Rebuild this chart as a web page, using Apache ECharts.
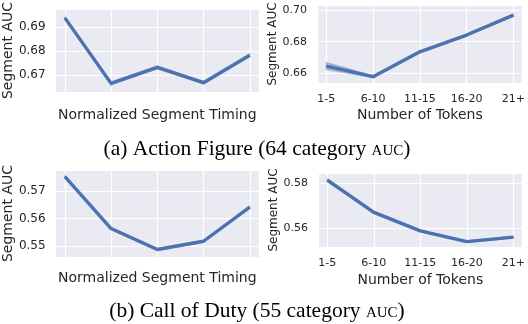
<!DOCTYPE html>
<html>
<head>
<meta charset="utf-8">
<script src="https://cdn.jsdelivr.net/npm/echarts@6/dist/echarts.min.js"></script>
<style>
html, body { margin: 0; padding: 0; background: #fff; }
#main { width: 528px; height: 324px; }
</style>
</head>
<body>
<div id="main"></div>
<script>
// x positions (0..4) and labels
var positions = [0, 1, 2, 3, 4];
var tokenBins = ['1-5', '6-10', '11-15', '16-20', '21+'];

// (a) Action Figure - timing
var afTiming = [0.6939, 0.6665, 0.6732, 0.6668, 0.6783];
var afTimingLow = [0.6936, 0.6659, 0.6726, 0.6663, 0.6778];
var afTimingHigh = [0.6942, 0.6671, 0.6738, 0.6673, 0.6788];
// (a) Action Figure - tokens
var afTokens = [0.6646, 0.6579, 0.6736, 0.6842, 0.6968];
var afTokensLow = [0.6624, 0.6573, 0.6731, 0.6837, 0.6962];
var afTokensHigh = [0.6668, 0.6585, 0.6741, 0.6847, 0.6974];
// (b) Call of Duty - timing
var codTiming = [0.5752, 0.5564, 0.5488, 0.5518, 0.5642];
var codTimingLow = [0.5750, 0.5561, 0.5485, 0.5515, 0.5640];
var codTimingHigh = [0.5754, 0.5567, 0.5491, 0.5521, 0.5644];
// (b) Call of Duty - tokens
var codTokens = [0.5815, 0.5671, 0.5588, 0.5540, 0.5560];
var codTokensLow = [0.5809, 0.5667, 0.5585, 0.5537, 0.5557];
var codTokensHigh = [0.5821, 0.5675, 0.5591, 0.5543, 0.5563];

var chart = echarts.init(document.getElementById('main'));

var txt = '#262626';
var blue = '#4C72B0';

function pairs(vals) {
    return positions.map(function (x, i) { return [x, vals[i]]; });
}
// one quad per segment of the confidence band
function bandSegs(lo, hi) {
    var out = [];
    for (var i = 0; i < positions.length - 1; i++) {
        out.push([positions[i], lo[i], hi[i], positions[i + 1], lo[i + 1], hi[i + 1]]);
    }
    return out;
}
function renderBand(params, api) {
    var a = api.coord([api.value(0), api.value(1)]);
    var b = api.coord([api.value(3), api.value(4)]);
    var c = api.coord([api.value(3), api.value(5)]);
    var d = api.coord([api.value(0), api.value(2)]);
    return {
        type: 'polygon',
        shape: { points: [a, b, c, d] },
        style: { fill: 'rgba(76,114,176,0.35)', stroke: 'rgba(76,114,176,0.3)', lineWidth: 1.5 }
    };
}

function xAxisFor(idx, name, labels, gap, fs) {
    return {
        type: 'value', gridIndex: idx, min: -0.2, max: 4.2, splitNumber: 4,
        name: name, nameLocation: 'middle', nameGap: gap,
        nameTextStyle: { color: txt, fontSize: 14, fontFamily: 'DejaVu Sans' },
        axisLine: { show: false }, axisTick: { show: false },
        axisLabel: {
            show: !!labels, margin: 11, color: txt, fontSize: fs, fontFamily: 'DejaVu Sans',
            formatter: function (v) {
                var i = Math.round(v);
                return (labels && Math.abs(v - i) < 1e-6) ? labels[i] : '';
            }
        },
        splitLine: { show: true, lineStyle: { color: '#fff', width: 1.2 } }
    };
}

function yAxisFor(idx, min, max, split, step, gap, fs, nfs) {
    return {
        type: 'value', gridIndex: idx, min: min, max: max, splitNumber: split,
        name: 'Segment AUC', nameLocation: 'middle', nameGap: gap, nameRotate: 90,
        nameTextStyle: { color: txt, fontSize: nfs, fontFamily: 'DejaVu Sans' },
        axisLine: { show: false }, axisTick: { show: false },
        axisLabel: {
            margin: 10, color: txt, fontSize: fs, fontFamily: 'DejaVu Sans',
            formatter: function (v) {
                var k = v / step;
                return Math.abs(k - Math.round(k)) < 1e-6 ? v.toFixed(2) : '';
            }
        },
        splitLine: { show: true, lineStyle: { color: '#fff', width: 1.2 } }
    };
}

function seriesFor(idx, vals, lo, hi) {
    return [
        { type: 'custom', xAxisIndex: idx, yAxisIndex: idx, data: bandSegs(lo, hi),
          renderItem: renderBand, encode: { x: [0, 3], y: [1, 2, 4, 5] }, silent: true, z: 3 },
        { type: 'line', xAxisIndex: idx, yAxisIndex: idx, data: pairs(vals), showSymbol: false,
          lineStyle: { color: blue, width: 3.4 }, z: 5 }
    ];
}

var capStyle = {
    fontFamily: 'Liberation Serif', fontSize: 21, fontWeight: 'normal', color: '#000',
    rich: {
        n: { fontFamily: 'Liberation Serif', fontSize: 21.5, color: '#000', verticalAlign: 'bottom' },
        sc: { fontFamily: 'Liberation Serif', fontSize: 15, color: '#000', verticalAlign: 'bottom', padding: [0, 0, 1, 0] }
    }
};

var option = {
    animation: false,
    grid: [
        { left: 53, top: 5, width: 206, height: 87, show: true, backgroundColor: '#EAEAF2', borderWidth: 0 },
        { left: 317, top: 5, width: 207, height: 78, show: true, backgroundColor: '#EAEAF2', borderWidth: 0 },
        { left: 53, top: 170, width: 206, height: 87, show: true, backgroundColor: '#EAEAF2', borderWidth: 0 },
        { left: 318, top: 173, width: 206, height: 74, show: true, backgroundColor: '#EAEAF2', borderWidth: 0 }
    ],
    xAxis: [
        xAxisFor(0, 'Normalized Segment Timing', null, 16, 12),
        xAxisFor(1, 'Number of Tokens', tokenBins, 25, 11),
        xAxisFor(2, 'Normalized Segment Timing', null, 14, 12),
        xAxisFor(3, 'Number of Tokens', tokenBins, 26, 11)
    ],
    yAxis: [
        yAxisFor(0, 0.6629, 0.6976, 3, 0.01, 38, 12, 14),
        yAxisFor(1, 0.6539, 0.7032, 3, 0.02, 35, 11, 12),
        yAxisFor(2, 0.5461, 0.5776, 3, 0.01, 38, 12, 14),
        yAxisFor(3, 0.5516, 0.5847, 2, 0.02, 35, 11, 12)
    ],
    title: [
        { text: '{n|(a) Action Figure (64 category }{sc|AUC}{n|)}', left: 252, top: 133, textAlign: 'center',
          textStyle: capStyle },
        { text: '{n|(b) Call of Duty (55 category }{sc|AUC}{n|)}', left: 252, top: 295, textAlign: 'center',
          textStyle: capStyle }
    ],
    series: [].concat(
        seriesFor(0, afTiming, afTimingLow, afTimingHigh),
        seriesFor(1, afTokens, afTokensLow, afTokensHigh),
        seriesFor(2, codTiming, codTimingLow, codTimingHigh),
        seriesFor(3, codTokens, codTokensLow, codTokensHigh)
    )
};
chart.setOption(option);
</script>
</body>
</html>
